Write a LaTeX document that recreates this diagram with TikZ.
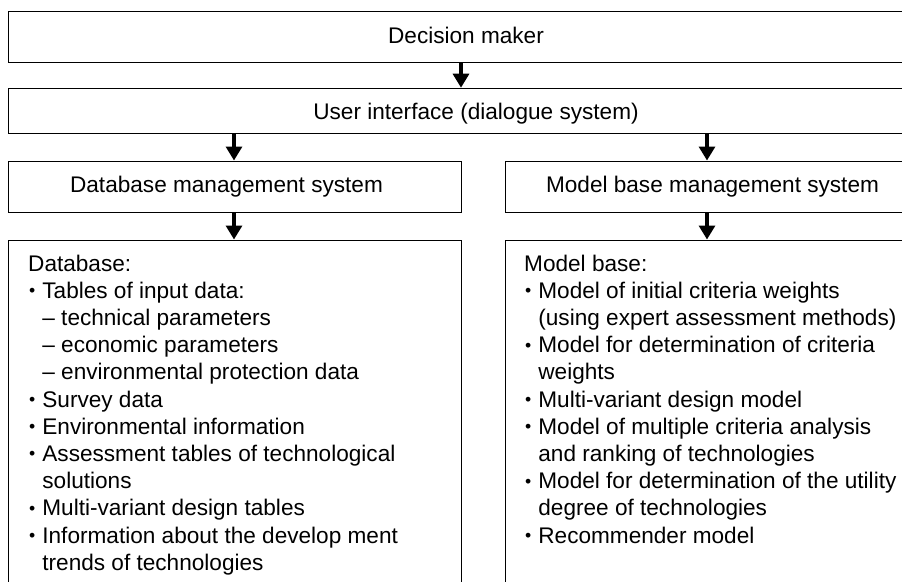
\documentclass[tikz,border=0pt]{standalone}
\usepackage{fontspec}
\setmainfont{Liberation Sans}
\usetikzlibrary{arrows.meta}
\newcommand\hind{\hphantom{•\ }}
\newcommand\bul{\rlap{\hspace{0.04em}\raisebox{0.07em}{\scalebox{0.78}{•}}}\hphantom{•}}
\begin{document}
\begin{tikzpicture}[x=1pt,y=-1pt,
  box/.style={draw=black, line width=1.3pt, inner sep=0pt, anchor=north west},
  lbl/.style={anchor=base, inner sep=0pt, font=\fontsize{22.6}{27.2}\selectfont},
  lst/.style={anchor=north west, inner sep=0pt, align=left, font=\fontsize{22.6}{27.2}\selectfont},
  arr/.style={line width=3.2pt, -{Triangle[width=16pt,length=14pt]}}]
\useasboundingbox (0,0) rectangle (902,581);
\fill[white] (0,0) rectangle (902,581);
\clip (0,0) rectangle (902,581);
% boxes
\node[box, minimum width=930pt, minimum height=51pt] (dm) at (8,11) {};
\node[box, minimum width=930pt, minimum height=45.3pt] (ui) at (8,87.7) {};
\node[box, minimum width=453pt, minimum height=51.5pt] (dbms) at (8,160.5) {};
\node[box, minimum width=430pt, minimum height=51.5pt] (mbms) at (504.5,160.5) {};
\node[box, minimum width=453pt, minimum height=400pt] (db) at (8,239.5) {};
\node[box, minimum width=430pt, minimum height=400pt] (mb) at (504.5,239.5) {};
% x positions of connectors
\coordinate (xa) at (461,0);
\coordinate (xb) at (234,0);
\coordinate (xc) at (707,0);
\draw[arr] (dm.south -| xa) -- (ui.north -| xa);
\draw[arr] (ui.south -| xb) -- (dbms.north -| xb);
\draw[arr] (ui.south -| xc) -- (mbms.north -| xc);
\draw[arr] (dbms.south -| xb) -- (db.north -| xb);
\draw[arr] (mbms.south -| xc) -- (mb.north -| xc);
% labels
\node[lbl] (tdm) at (466,43) {Decision maker};
\node[lbl] (tui) at (476,119) {User interface (dialogue system)};
\node[lbl] (tdbms) at (226.5,192.7) {Database management system};
\node[lbl] (tmbms) at (712.5,192.7) {Model base management system};
\node[lst] (tdb) at (28,254.5) {Database:\\
\bul\ Tables of input data:\\
\hind – technical parameters\\
\hind – economic parameters\\
\hind – environmental protection data\\
\bul\ Survey data\\
\bul\ Environmental information\\
\bul\ Assessment tables of technological\\
\hind solutions\\
\bul\ Multi-variant design tables\\
\bul\ Information about the develop ment\\
\hind trends of technologies};
\node[lst] (tmb) at (524,254.5) {Model base:\\
\bul\ Model of initial criteria weights\\
\hind (using expert assessment methods)\\
\bul\ Model for determination of criteria\\
\hind weights\\
\bul\ Multi-variant design model\\
\bul\ Model of multiple criteria analysis\\
\hind and ranking of technologies\\
\bul\ Model for determination of the utility\\
\hind degree of technologies\\
\bul\ Recommender model};
\end{tikzpicture}
\end{document}
